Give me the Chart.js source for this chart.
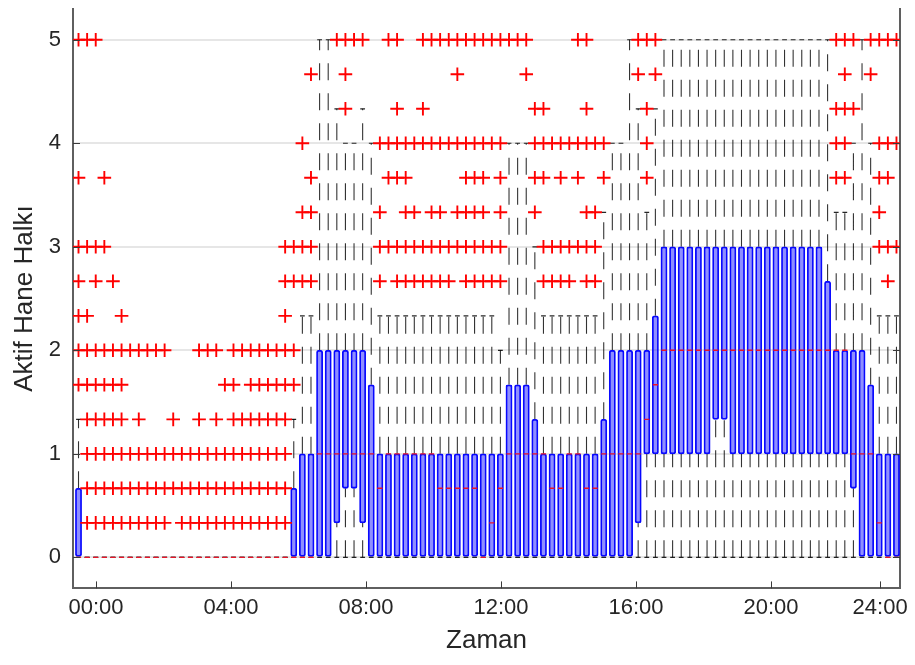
<!DOCTYPE html>
<html>
<head>
<meta charset="utf-8">
<script src="https://cdn.jsdelivr.net/npm/chart.js@4.4.1/dist/chart.umd.min.js"></script>
<style>
  html, body { margin: 0; padding: 0; background: #ffffff; }
  #wrap { width: 915px; height: 665px; }
</style>
</head>
<body>
<div id="wrap"><canvas id="chart" width="915" height="665"></canvas></div>
<script>
// One box per 15-minute slot, slot 0 = 00:00 ... slot 95 = 23:45.
// Each row below covers four hours (16 slots).

// Lower quartile
const q1 = [
  0, 0, 0, 0, 0, 0, 0, 0, 0, 0, 0, 0, 0, 0, 0, 0,
  0, 0, 0, 0, 0, 0, 0, 0, 0, 0, 0, 0, 0, 0, 0.333, 0.667,
  0.667, 0.333, 0, 0, 0, 0, 0, 0, 0, 0, 0, 0, 0, 0, 0, 0,
  0, 0, 0, 0, 0, 0, 0, 0, 0, 0, 0, 0, 0, 0, 0, 0,
  0, 0.333, 1, 1, 1, 1, 1, 1, 1, 1, 1.333, 1.333, 1, 1, 1, 1,
  1, 1, 1, 1, 1, 1, 1, 1, 1, 1, 0.667, 0, 0, 0, 0, 0
];

// Upper quartile
const q3 = [
  0.667, 0, 0, 0, 0, 0, 0, 0, 0, 0, 0, 0, 0, 0, 0, 0,
  0, 0, 0, 0, 0, 0, 0, 0, 0, 0.667, 1, 1, 2, 2, 2, 2,
  2, 2, 1.667, 1, 1, 1, 1, 1, 1, 1, 1, 1, 1, 1, 1, 1,
  1, 1, 1.667, 1.667, 1.667, 1.333, 1, 1, 1, 1, 1, 1, 1, 1.333, 2, 2,
  2, 2, 2, 2.333, 3, 3, 3, 3, 3, 3, 3, 3, 3, 3, 3, 3,
  3, 3, 3, 3, 3, 3, 3, 2.667, 2, 2, 2, 2, 1.667, 1, 1, 1
];

// Median
const median = [
  0, 0, 0, 0, 0, 0, 0, 0, 0, 0, 0, 0, 0, 0, 0, 0,
  0, 0, 0, 0, 0, 0, 0, 0, 0, 0, 0, 0, 1, 1, 1, 1,
  1, 1, 1, 0.667, 1, 1, 1, 1, 1, 1, 0.667, 0.667, 0.667, 0.667, 0.667, 0,
  0.333, 0.667, 1, 1, 1, 1, 1, 0.667, 0.667, 1, 1, 0.667, 0.667, 1, 1, 1,
  1, 1, 1.333, 1.667, 2, 2, 2, 2, 2, 2, 2, 2, 2, 2, 2, 2,
  2, 2, 2, 2, 2, 2, 2, 2, 2, 2, 1, 1, 1, 0.333, 0, 0
];

// Whisker ends
const whiskerLow = [
  0, 0, 0, 0, 0, 0, 0, 0, 0, 0, 0, 0, 0, 0, 0, 0,
  0, 0, 0, 0, 0, 0, 0, 0, 0, 0, 0, 0, 0, 0, 0, 0,
  0, 0, 0, 0, 0, 0, 0, 0, 0, 0, 0, 0, 0, 0, 0, 0,
  0, 0, 0, 0, 0, 0, 0, 0, 0, 0, 0, 0, 0, 0, 0, 0,
  0, 0, 0, 0, 0, 0, 0, 0, 0, 0, 0, 0, 0, 0, 0, 0,
  0, 0, 0, 0, 0, 0, 0, 0, 0, 0, 0, 0, 0, 0, 0, 0
];
const whiskerHigh = [
  1.333, 0, 0, 0, 0, 0, 0, 0, 0, 0, 0, 0, 0, 0, 0, 0,
  0, 0, 0, 0, 0, 0, 0, 0, 0, 1.333, 2.333, 2.333, 5, 5, 4.333, 4,
  4, 4.333, 4, 2.333, 2.333, 2.333, 2.333, 2.333, 2.333, 2.333, 2.333, 2.333, 2.333, 2.333, 2.333, 2.333,
  2.333, 2, 4, 4, 4, 3, 2.333, 2.333, 2.333, 2.333, 2.333, 2.333, 2.333, 3.333, 4, 4,
  5, 4.333, 3.333, 4.333, 5, 5, 5, 5, 5, 5, 5, 5, 5, 5, 5, 5,
  5, 5, 5, 5, 5, 5, 5, 5, 3.333, 3.333, 4, 5, 4, 2.333, 2.333, 2.333
];

// Outliers: one value level and the slots that have an outlier there
const outlierLevels = [5, 4.667, 4.333, 4, 3.667, 3.333, 3, 2.667, 2.333, 2, 1.667, 1.333, 1, 0.667, 0.333];
const outlierSlots = [
  [0, 1, 2, 30, 31, 32, 33, 36, 37, 40, 41, 42, 43, 44, 45, 46, 47, 48, 49, 50, 51, 52, 58, 59, 65, 66, 67, 88, 89, 90, 92, 93, 94, 95],
  [27, 31, 44, 52, 65, 67, 89, 92],
  [31, 37, 40, 53, 54, 59, 66, 88, 89, 90],
  [26, 35, 36, 37, 38, 39, 40, 41, 42, 43, 44, 45, 46, 47, 48, 49, 53, 54, 55, 56, 57, 58, 59, 60, 61, 66, 88, 89, 93, 94, 95],
  [0, 3, 27, 36, 37, 38, 45, 46, 47, 49, 53, 54, 56, 58, 61, 66, 88, 89, 93, 94],
  [26, 27, 35, 38, 39, 41, 42, 44, 45, 46, 47, 49, 53, 59, 60, 93],
  [0, 1, 2, 3, 24, 25, 26, 27, 35, 36, 37, 38, 39, 40, 41, 42, 43, 44, 45, 46, 47, 48, 49, 54, 55, 56, 57, 58, 59, 60, 93, 94, 95],
  [0, 2, 4, 24, 25, 26, 27, 35, 37, 38, 39, 40, 41, 42, 43, 45, 46, 47, 48, 49, 54, 55, 56, 57, 59, 60, 94],
  [0, 1, 5, 24],
  [0, 1, 2, 3, 4, 5, 6, 7, 8, 9, 10, 14, 15, 16, 18, 19, 20, 21, 22, 23, 24, 25],
  [0, 1, 2, 3, 4, 5, 17, 18, 20, 21, 22, 23, 24, 25],
  [1, 2, 3, 4, 5, 7, 11, 14, 16, 18, 19, 20, 21, 22, 23, 24],
  [1, 2, 3, 4, 5, 6, 7, 8, 9, 10, 11, 12, 13, 14, 15, 16, 17, 18, 19, 20, 21, 22, 23, 24],
  [1, 2, 3, 4, 5, 6, 7, 8, 9, 10, 11, 12, 13, 14, 15, 16, 17, 18, 19, 20, 21, 22, 23, 24],
  [1, 2, 3, 4, 5, 6, 7, 8, 9, 10, 12, 13, 14, 15, 16, 17, 18, 19, 20, 21, 22, 23, 24]
];

// Axis ticks (positions in slot units)
const xTickSlots = [2.03, 17.71, 33.39, 49.07, 64.75, 80.43, 93.10];
const xTickLabels = ['00:00', '04:00', '08:00', '12:00', '16:00', '20:00', '24:00'];
const yTicks = [0, 1, 2, 3, 4, 5];

// ---- datasets built from the arrays above ----
const slots = q1.map((_, i) => i);

const boxData = slots
  .filter(i => q3[i] > q1[i])
  .map(i => ({ x: i, y: [q1[i], q3[i]] }));

// dashed whiskers, each drawn upward from its lower end; null breaks the line
const whiskerData = [];
slots.forEach(i => {
  if (whiskerLow[i] < q1[i]) {
    whiskerData.push({ x: i, y: whiskerLow[i] }, { x: i, y: q1[i] }, { x: i, y: null });
  }
  if (whiskerHigh[i] > q3[i]) {
    whiskerData.push({ x: i, y: q3[i] }, { x: i, y: whiskerHigh[i] }, { x: i, y: null });
  }
});

const capData = [];
slots.forEach(i => {
  capData.push({ x: i, y: whiskerLow[i] }, { x: i, y: whiskerHigh[i] });
});

const medianData = slots.map(i => ({ x: i, y: median[i] }));

const outlierData = [];
outlierLevels.forEach((lvl, k) => {
  outlierSlots[k].forEach(i => outlierData.push({ x: i, y: lvl }));
});

const FONT = "'Liberation Sans', Arial, Helvetica, sans-serif";
const TEXT = '#262626';
const AXIS = '#5f5f5f';

// short inward tick marks on the frame
const innerTicks = {
  id: 'innerTicks',
  afterDraw(chart) {
    const { ctx, chartArea: a, scales } = chart;
    ctx.save();
    ctx.strokeStyle = '#3a3a3a';
    ctx.lineWidth = 1;
    ctx.beginPath();
    scales.y.ticks.forEach(t => {
      const py = Math.round(scales.y.getPixelForValue(t.value)) + 0.5;
      ctx.moveTo(a.left, py); ctx.lineTo(a.left + 7, py);
      ctx.moveTo(a.right - 7, py); ctx.lineTo(a.right, py);
    });
    scales.x.ticks.forEach(t => {
      const px = Math.round(scales.x.getPixelForValue(t.value)) + 0.5;
      ctx.moveTo(px, a.bottom); ctx.lineTo(px, a.bottom - 7);
    });
    ctx.stroke();
    ctx.restore();
  }
};

new Chart(document.getElementById('chart'), {
  type: 'bar',
  data: {
    datasets: [
      {
        type: 'scatter',
        data: outlierData,
        order: 1,
        showLine: false,
        pointStyle: 'cross',
        pointRadius: 6.8,
        pointBorderWidth: 1.9,
        pointBorderColor: 'rgb(255,0,0)',
        borderColor: 'rgb(255,0,0)',
        pointBackgroundColor: 'rgb(255,0,0)'
      },
      {
        type: 'scatter',
        data: medianData,
        order: 2,
        showLine: false,
        pointStyle: 'line',
        pointRadius: 2.6,
        pointBorderWidth: 1.4,
        pointBorderColor: 'rgb(235,20,40)',
        borderColor: 'rgb(235,20,40)'
      },
      {
        type: 'scatter',
        data: capData,
        order: 3,
        showLine: false,
        pointStyle: 'line',
        pointRadius: 2.4,
        pointBorderWidth: 1.2,
        pointBorderColor: 'rgba(0,0,0,0.85)',
        borderColor: 'rgba(0,0,0,0.85)'
      },
      {
        type: 'bar',
        data: boxData,
        order: 4,
        barThickness: 6.2,
        borderWidth: 1.1,
        borderColor: 'rgb(10,10,255)',
        backgroundColor: 'rgba(0,0,255,0.44)',
        borderSkipped: false,
        borderRadius: 2
      },
      {
        type: 'line',
        data: whiskerData,
        order: 5,
        borderColor: 'rgba(0,0,0,0.8)',
        borderWidth: 1.1,
        borderDash: [17, 13],
        borderDashOffset: 0,
        pointRadius: 0,
        fill: false,
        spanGaps: false,
        tension: 0
      }
    ]
  },
  options: {
    responsive: false,
    animation: false,
    events: [],
    devicePixelRatio: 1,
    layout: { padding: { top: 1.6, left: 0, right: 0, bottom: 0 } },
    plugins: {
      legend: { display: false },
      tooltip: { enabled: false }
    },
    scales: {
      x: {
        type: 'linear',
        min: -0.64,
        max: 95.41,
        offset: false,
        afterBuildTicks: s => { s.ticks = xTickSlots.map(v => ({ value: v })); },
        afterFit: s => { s.height = 76.6; s.paddingLeft = 0; s.paddingRight = 0; },
        grid: { display: false, drawTicks: false },
        border: { display: true, color: AXIS, width: 2 },
        ticks: {
          autoSkip: false,
          maxRotation: 0,
          padding: 6.5,
          color: TEXT,
          font: { family: FONT, size: 22 },
          callback: (v, i) => xTickLabels[i]
        },
        title: {
          display: true,
          text: 'Zaman',
          color: TEXT,
          font: { family: FONT, size: 26 },
          padding: { top: 0, bottom: 8.4 }
        }
      },
      y: {
        type: 'linear',
        position: 'left',
        min: -0.3,
        max: 5.3,
        afterBuildTicks: s => { s.ticks = yTicks.map(v => ({ value: v })); },
        afterFit: s => { s.width = 73; s.paddingTop = 0; s.paddingBottom = 0; },
        grid: { display: true, drawTicks: false, color: '#e6e6e6', lineWidth: 2 },
        border: { display: true, color: AXIS, width: 2 },
        ticks: {
          padding: 12,
          color: TEXT,
          font: { family: FONT, size: 22 },
          callback: v => String(v)
        },
        title: {
          display: true,
          text: 'Aktif Hane Halkı',
          color: TEXT,
          font: { family: FONT, size: 26 },
          padding: { top: 9.4, bottom: 0 }
        }
      },
      yRight: {
        type: 'linear',
        position: 'right',
        min: -0.3,
        max: 5.3,
        afterFit: s => { s.width = 15; s.paddingTop = 0; s.paddingBottom = 0; },
        grid: { display: false, drawTicks: false },
        border: { display: true, color: AXIS, width: 2 },
        ticks: { display: false }
      }
    }
  },
  plugins: [innerTicks]
});
</script>
</body>
</html>
